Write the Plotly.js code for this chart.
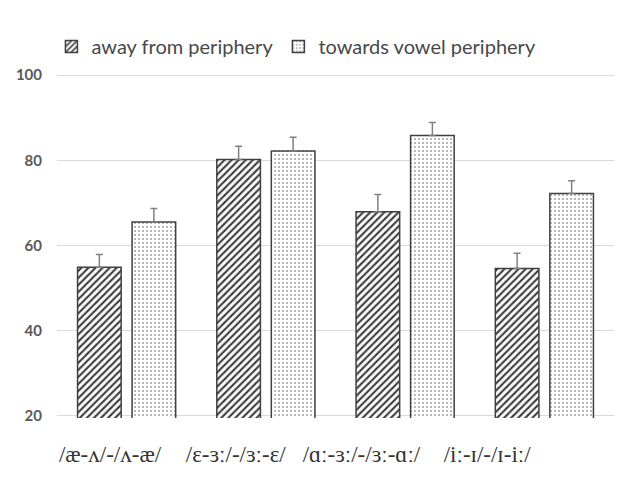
<!DOCTYPE html>
<html>
<head>
<meta charset="utf-8">
<script src="https://cdn.plot.ly/plotly-3.0.1.min.js"></script>
<style>html,body{margin:0;padding:0;background:#fff;}#chart{width:623px;height:482px;}</style>
</head>
<body>
<div id="chart"></div>
<script>
var categories = ['/æ-ʌ/-/ʌ-æ/', '/ɛ-ɜː/-/ɜː-ɛ/', '/ɑː-ɜː/-/ɜː-ɑː/', '/iː-ɪ/-/ɪ-iː/'];
var seriesNames = ['away from periphery', 'towards vowel periphery'];
var awayValues = [54.9, 80.2, 67.9, 54.6];
var awayErrors = [3.0, 3.1, 4.1, 3.6];
var towardsValues = [65.5, 82.2, 85.8, 72.2];
var towardsErrors = [3.2, 3.2, 3.1, 3.0];
var yTicks = [20, 40, 60, 80, 100];

var idx = categories.map(function(c, i){ return i; });

var traceAway = {
  type: 'bar', name: seriesNames[0], x: categories, y: awayValues,
  marker: {color: '#ffffff', line: {color: '#404040', width: 1.5},
           pattern: {shape: '/', fgcolor: '#404040', bgcolor: '#ffffff', size: 5, solidity: 0.42}},
  error_y: {type: 'data', symmetric: false, array: awayErrors, arrayminus: awayErrors.map(function(){return 0;}),
            color: '#808080', thickness: 1.5, width: 3.5},
  hoverinfo: 'skip'
};
var traceTowards = {
  type: 'bar', name: seriesNames[1], x: categories, y: towardsValues,
  marker: {color: '#ffffff', line: {color: '#404040', width: 1.5},
           pattern: {shape: '.', fgcolor: '#a0a0a0', bgcolor: '#ffffff', size: 4, solidity: 0.2}},
  error_y: {type: 'data', symmetric: false, array: towardsErrors, arrayminus: towardsErrors.map(function(){return 0;}),
            color: '#808080', thickness: 1.5, width: 3.5},
  hoverinfo: 'skip'
};
var labelTrace = {
  type: 'scatter', mode: 'markers', x: idx, y: idx.map(function(){return null;}),
  xaxis: 'x2', yaxis: 'y', showlegend: false, hoverinfo: 'skip', marker: {opacity: 0}
};

var layout = {
  width: 623, height: 482,
  margin: {l: 57, r: 9, t: 73, b: 64},
  paper_bgcolor: '#ffffff', plot_bgcolor: '#ffffff',
  barmode: 'group', bargap: 0.217, bargroupgap: 0.2,
  showlegend: true,
  legend: {orientation: 'h', x: -0.01, xanchor: 'left', y: 1.077, yanchor: 'middle',
           font: {family: 'Lato, "Liberation Sans", sans-serif', size: 20, color: '#484848'},
           traceorder: 'normal'},
  xaxis: {type: 'category', showticklabels: false, showgrid: false, zeroline: false, showline: false, ticks: ''},
  xaxis2: {type: 'linear', anchor: 'y', overlaying: 'x', range: [-0.4216, 4.009],
           tickmode: 'array', tickvals: idx, ticktext: categories, showgrid: false, zeroline: false, showline: false,
           ticks: '', ticklabelstandoff: 20,
           tickfont: {family: '"Liberation Serif", "DejaVu Serif", serif', size: 23, color: '#333333'}},
  yaxis: {range: [19.5, 100.5], tickmode: 'array', tickvals: yTicks, ticktext: yTicks.map(String),
          showgrid: true, gridcolor: '#d9d9d9', gridwidth: 1, zeroline: false, showline: false, ticks: '',
          ticklabelstandoff: 14,
          tickfont: {family: 'Lato, "Liberation Sans", sans-serif', size: 15, color: '#595959', weight: 'bold'}}
};

Plotly.newPlot('chart', [traceAway, traceTowards, labelTrace], layout, {staticPlot: true, displayModeBar: false});
</script>
</body>
</html>
